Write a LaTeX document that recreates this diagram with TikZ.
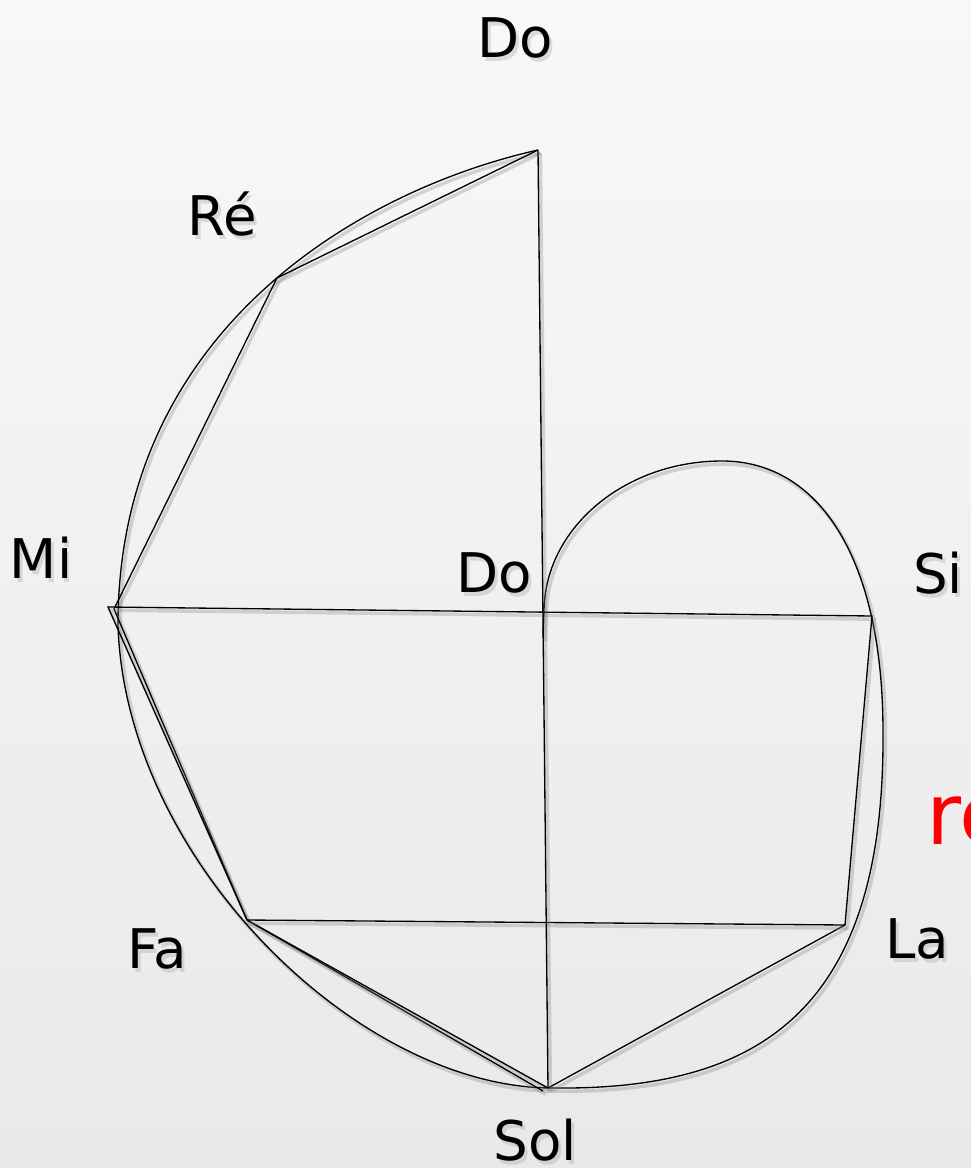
\documentclass[tikz,border=0pt]{standalone}
\usepackage{fontspec}
\setmainfont{DejaVu Sans}
\usepackage{xcolor}
\usepackage{tikz}
\definecolor{fondClair}{HTML}{F8F8F8}
\definecolor{fondFonce}{HTML}{E9E9E9}
\definecolor{rougeNote}{HTML}{FF0000}

% note avec ombre portee
\newcommand{\noteOmbre}[4]{%
    \node[nota, anchor=#3, text=black!35, opacity=0.35] at ([shift={(3,4)}]#2) {#4};
    \node[nota, anchor=#3] (#1) at (#2) {#4};
}

\begin{document}
\begin{tikzpicture}[
    x=0.75pt, y=-0.75pt,
    trace/.style={
        draw=black,
        line width=1pt,
        preaction={
            draw=black!50,
            line width=2.6pt,
            opacity=0.3,
            transform canvas={shift={(1.8pt,-2.4pt)}}
        }
    },
    nota/.style={
        inner sep=0pt,
        text=black,
        font=\fontsize{41}{49}\selectfont
    }
]

        % Fond
        \clip (0,0) rectangle (971,1168);
        \shade[
            top color=fondClair,
            bottom color=fondFonce
        ] (0,0) rectangle (971,1168);

        % =====================================================
        % POINTS
        % =====================================================
        \coordinate (doHaut) at (538,150);
        \coordinate (re) at (277,278);
        \coordinate (mi) at (108,607);
        \coordinate (miBis) at (114,609);
        \coordinate (fa) at (247,920);
        \coordinate (sol) at (548,1088);
        \coordinate (solBis) at (543,1091);
        \coordinate (la) at (845,925);
        \coordinate (si) at (872,616);
        \coordinate (doCentre) at (544,612);
        \coordinate (queue) at (543,638);

        % points de la courbe
        \coordinate (gauche) at (118,625);
        \coordinate (fond) at (555,1088);
        \coordinate (droite) at (883,732);
        \coordinate (bosse) at (722,461);

        % =====================================================
        % COURBE
        % =====================================================
        \draw[trace]
            (doHaut) .. controls (360,190) and (118,330) .. (gauche)
            .. controls (125,860) and (360,1090) .. (fond)
            .. controls (760,1090) and (885,1010) .. (droite)
            .. controls (883,560) and (820,461) .. (bosse)
            .. controls (624,461) and (544,529) .. (doCentre)
            -- (queue);

        % =====================================================
        % POLYGONES
        % =====================================================
        \draw[trace] (doHaut) -- (re) -- (miBis) -- (fa) -- (solBis);
        \draw[trace] (sol) -- (la) -- (si) -- (mi) -- (fa) -- (sol);
        \draw[trace] (fa) -- (la);
        \draw[trace] (doHaut) -- (sol);

        % =====================================================
        % NOTES
        % =====================================================
        \noteOmbre{lDoHaut}{515,57}{base}{Do}
        \noteOmbre{lRe}{222,235}{base}{Ré}
        \noteOmbre{lMi}{41,578}{base}{Mi}
        \noteOmbre{lDoCentre}{494,592}{base}{Do}
        \noteOmbre{lSi}{913,593}{base west}{Si}
        \noteOmbre{lLa}{885,958}{base west}{La}
        \noteOmbre{lFa}{157,968}{base}{Fa}
        \noteOmbre{lSol}{535,1160}{base}{Sol}

        % texte rouge coupé
        \node[
            anchor=base west,
            inner sep=0pt,
            text=rougeNote,
            font=\fontsize{64}{76}\selectfont
        ] (lRouge) at (926,844) {re};

\end{tikzpicture}
\end{document}
